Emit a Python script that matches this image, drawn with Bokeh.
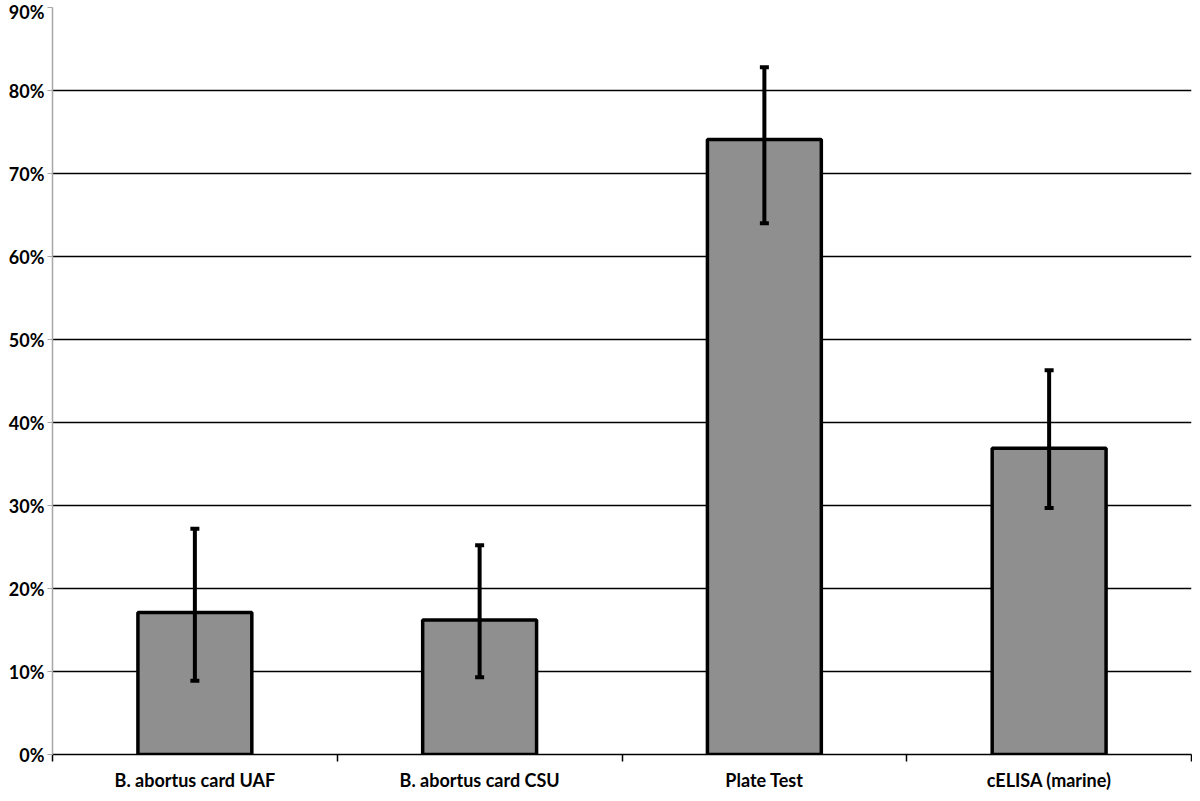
from bokeh.plotting import figure
from bokeh.models import ColumnDataSource, Whisker, FixedTicker, PrintfTickFormatter, Range1d, TeeHead
from bokeh.embed import file_html
from bokeh.resources import INLINE

categories = ["B. abortus card UAF", "B. abortus card CSU", "Plate Test", "cELISA (marine)"]
values = [17.1, 16.2, 74.1, 36.9]
err_upper = [27.2, 25.2, 82.8, 46.3]
err_lower = [8.9, 9.3, 64.0, 29.7]
y_ticks = [0, 10, 20, 30, 40, 50, 60, 70, 80, 90]

xs = [i + 0.5 for i in range(len(categories))]
src = ColumnDataSource(dict(x=xs, top=values, upper=err_upper, lower=err_lower))

p = figure(width=1192, height=793, output_backend="svg", toolbar_location=None,
           x_range=Range1d(0, len(categories)), y_range=Range1d(0, 90),
           min_border_left=52, min_border_right=1, min_border_top=7, min_border_bottom=30)
p.outline_line_color = None
p.background_fill_color = "white"

p.vbar(x="x", top="top", width=0.4, bottom=0, source=src,
       fill_color="#8f8f8f", line_color="black", line_width=3.5)

w = Whisker(base="x", upper="upper", lower="lower", source=src,
            line_color="black", line_width=4, level="overlay",
            upper_head=TeeHead(size=9, line_width=4, line_color="black"),
            lower_head=TeeHead(size=9, line_width=4, line_color="black"))
p.add_layout(w)

# y axis
p.yaxis.ticker = FixedTicker(ticks=y_ticks)
p.yaxis.formatter = PrintfTickFormatter(format="%d%%")
p.yaxis.axis_line_color = "#a6a6a6"
p.yaxis.axis_line_width = 1.5
p.yaxis.major_tick_line_color = "#a6a6a6"
p.yaxis.major_tick_out = 5
p.yaxis.major_tick_in = 0
p.yaxis.minor_tick_line_color = None
p.yaxis.major_label_text_font = "Lato"
p.yaxis.major_label_text_font_style = "bold"
p.yaxis.major_label_text_font_size = "18px"
p.yaxis.major_label_text_color = "black"
p.yaxis.major_label_standoff = 3

# x axis
p.xaxis.ticker = FixedTicker(ticks=xs, minor_ticks=[float(i) for i in range(len(categories) + 1)])
p.xaxis.major_label_overrides = {x: c for x, c in zip(xs, categories)}
p.xaxis.axis_line_color = "black"
p.xaxis.axis_line_width = 1.5
p.xaxis.major_tick_line_color = None
p.xaxis.major_tick_out = 0
p.xaxis.major_tick_in = 0
p.xaxis.minor_tick_line_color = "black"
p.xaxis.minor_tick_line_width = 1.5
p.xaxis.minor_tick_out = 7
p.xaxis.minor_tick_in = 0
p.xaxis.major_label_text_font = "Lato"
p.xaxis.major_label_text_font_style = "bold"
p.xaxis.major_label_text_font_size = "18px"
p.xaxis.major_label_text_color = "black"
p.xaxis.major_label_standoff = 7

p.xgrid.grid_line_color = None
p.ygrid.ticker = FixedTicker(ticks=y_ticks)
p.ygrid.grid_line_color = "black"
p.ygrid.grid_line_width = 1.5

open("out.html", "w").write(file_html(p, INLINE))
